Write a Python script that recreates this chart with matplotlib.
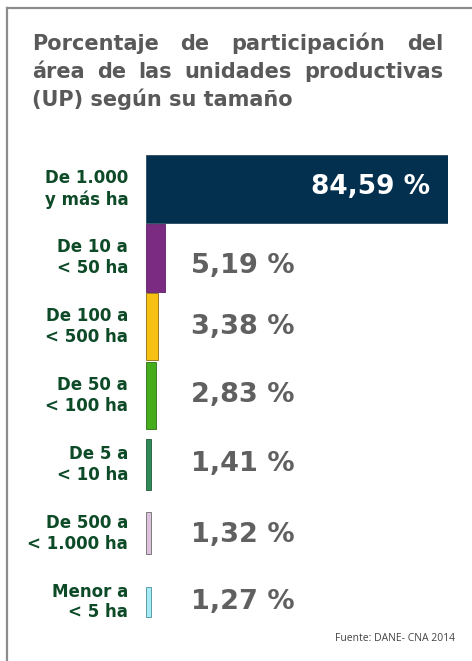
import matplotlib
matplotlib.use("Agg")
import matplotlib.pyplot as plt
from matplotlib.lines import Line2D

# data
categories = ["De 1.000\ny más ha", "De 10 a\n< 50 ha", "De 100 a\n< 500 ha",
              "De 50 a\n< 100 ha", "De 5 a\n< 10 ha", "De 500 a\n< 1.000 ha",
              "Menor a\n< 5 ha"]
values = [84.59, 5.19, 3.38, 2.83, 1.41, 1.32, 1.27]
value_labels = ["84,59 %", "5,19 %", "3,38 %", "2,83 %", "1,41 %", "1,32 %", "1,27 %"]
title_lines = ["Porcentaje de participación del",
               "área de las unidades productivas",
               "(UP) según su tamaño"]
source = "Fuente: DANE- CNA 2014"

# style
colors = ["#03304f", "#7b2b82", "#f8c012", "#45ad1c", "#2f8a58", "#dcc2dc", "#a5ecf6"]
edges = ["#2a4a60", "#5e1f63", "#8a6a10", "#2f6d18", "#1f5a3a", "#6a6a6a", "#4c8f99"]
heights = [1.0, 0.99, 0.97, 0.96, 0.75, 0.61, 0.44]
label_dy = [-0.03, 0.12, 0.0, 0.0, 0.0, 0.02, 0.0]
FONT = "DejaVu Sans"

W, H = 472, 661
fig = plt.figure(figsize=(W / 100, H / 100), dpi=100)
fig.patch.set_facecolor("white")

def fx(px):
    return px / W

def fy(py):
    return 1 - py / H

# frame
fig.add_artist(Line2D([fx(7), fx(472)], [fy(8), fy(8)], color="#8c8c8c", lw=1.6))
fig.add_artist(Line2D([fx(7), fx(7)], [fy(8), fy(661)], color="#8c8c8c", lw=1.6))

ax = fig.add_axes([fx(146), fy(636.4), fx(448) - fx(146), fy(154.6) - fy(636.4)])
y = list(range(len(values)))
ax.barh(y, values, height=heights, color=colors, edgecolor=edges, linewidth=0.6)
ax.set_xlim(0, max(values))
ax.set_ylim(len(values) - 0.5, -0.5)
ax.axis("off")

for i, (v, lab) in enumerate(zip(values, value_labels)):
    if i == 0:
        ax.text(v - 5.1, i + label_dy[i], lab, color="white", fontsize=19,
                fontweight="bold", family=FONT, ha="right", va="center")
    else:
        ax.text(12.6, i + label_dy[i], lab, color="#606060", fontsize=19.5,
                fontweight="bold", family=FONT, ha="left", va="center")
    ax.text(-5.0, i, categories[i], color="#0d4a27", fontsize=12, fontweight="bold",
            family=FONT, ha="right", va="center", multialignment="right",
            linespacing=1.2, clip_on=False)

# title, first two lines justified
fig.canvas.draw()
rend = fig.canvas.get_renderer()
left, right = 32, 443
tkw = dict(color="#595959", fontsize=15, fontweight="bold", family=FONT,
           va="baseline")
baselines = [50, 78, 106]
for k, line in enumerate(title_lines):
    if k < 2:
        words = line.split()
        arts = [fig.text(0, fy(baselines[k]), w, **tkw) for w in words]
        widths = [a.get_window_extent(rend).width for a in arts]
        gap = max((right - left - sum(widths)) / (len(words) - 1), 4)
        xpos = left
        for a, wd in zip(arts, widths):
            a.set_x(fx(xpos))
            xpos += wd + gap
    else:
        fig.text(fx(left), fy(baselines[k]), line, **tkw)

fig.text(fx(455), fy(641), source, color="#444444", fontsize=7.5, family="Open Sans",
         ha="right", va="baseline")

fig.savefig("out.png", dpi=100)
